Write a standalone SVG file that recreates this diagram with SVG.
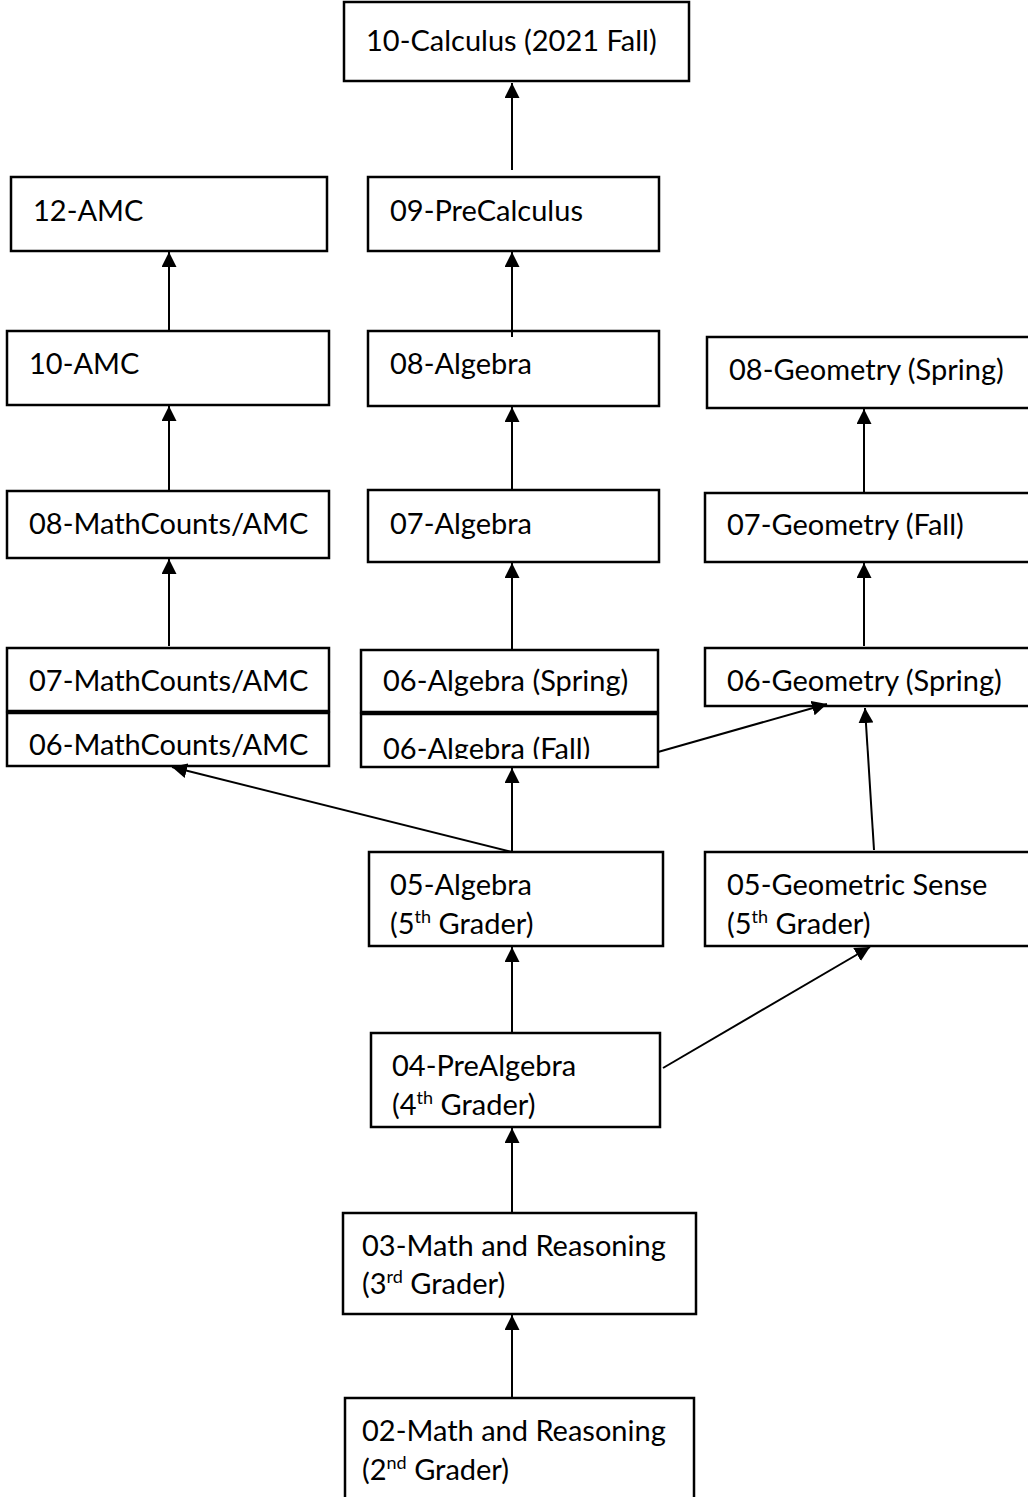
<svg xmlns="http://www.w3.org/2000/svg" width="1028" height="1497" viewBox="0 0 1028 1497">
<style>
.box{fill:#fff;stroke:#000;stroke-width:2.5}
.t{font-family:Lato,"Open Sans",sans-serif;font-size:29px;fill:#000}
.sup{font-size:18px}
.c{stroke:#000;stroke-width:2;fill:none;marker-end:url(#ah)}
</style>
<defs>
<marker id="ah" markerUnits="userSpaceOnUse" markerWidth="15" markerHeight="15" refX="15" refY="7.5" orient="auto">
<path d="M0,0 L15,7.5 L0,15 z" fill="#000"/>
</marker>
<clipPath id="clipF"><rect x="361" y="714" width="297" height="45"/></clipPath>
</defs>
<rect width="1028" height="1497" fill="#fff"/>
<g id="n10calc"><rect class="box" x="344" y="2" width="345" height="79"/><text class="t" x="366" y="51">10-Calculus (2021 Fall)</text></g>
<g id="n12amc"><rect class="box" x="11" y="177" width="316" height="74"/><text class="t" x="33" y="221">12-AMC</text></g>
<g id="n09pre"><rect class="box" x="368" y="177" width="291" height="74"/><text class="t" x="390" y="221">09-PreCalculus</text></g>
<g id="n10amc"><rect class="box" x="7" y="331" width="322" height="74"/><text class="t" x="29" y="374">10-AMC</text></g>
<g id="n08alg"><rect class="box" x="368" y="331" width="291" height="75"/><text class="t" x="390" y="374">08-Algebra</text></g>
<g id="n08geo"><rect class="box" x="707" y="337" width="323" height="71"/><text class="t" x="729" y="380">08-Geometry (Spring)</text></g>
<g id="n08mc"><rect class="box" x="7" y="491" width="322" height="67"/><text class="t" x="29" y="534">08-MathCounts/AMC</text></g>
<g id="n07alg"><rect class="box" x="368" y="490" width="291" height="72"/><text class="t" x="390" y="534">07-Algebra</text></g>
<g id="n07geo"><rect class="box" x="705" y="493" width="325" height="69"/><text class="t" x="727" y="535">07-Geometry (Fall)</text></g>
<g id="n07mc"><rect class="box" x="7" y="648" width="322" height="63"/><text class="t" x="29" y="691">07-MathCounts/AMC</text></g>
<g id="n06mc"><rect class="box" x="7" y="713" width="322" height="53"/><text class="t" x="29" y="755">06-MathCounts/AMC</text></g>
<g id="n06algS"><rect class="box" x="361" y="650" width="297" height="62"/><text class="t" x="383" y="691">06-Algebra (Spring)</text></g>
<g id="n06algF"><rect class="box" x="361" y="714" width="297" height="53"/><text class="t" x="383" y="759" clip-path="url(#clipF)">06-Algebra (Fall)</text></g>
<g id="n06geo"><rect class="box" x="705" y="648" width="325" height="58"/><text class="t" x="727" y="691">06-Geometry (Spring)</text></g>
<g id="n05alg"><rect class="box" x="369" y="852" width="294" height="94"/><text class="t" x="390" y="895">05-Algebra</text><text class="t" x="390" y="934">(5<tspan class="sup" dy="-11">th</tspan><tspan dy="11"> Grader)</tspan></text></g>
<g id="n05geo"><rect class="box" x="705" y="852" width="325" height="94"/><text class="t" x="727" y="895">05-Geometric Sense</text><text class="t" x="727" y="934">(5<tspan class="sup" dy="-11">th</tspan><tspan dy="11"> Grader)</tspan></text></g>
<g id="n04pre"><rect class="box" x="371" y="1033" width="289" height="94"/><text class="t" x="392" y="1076">04-PreAlgebra</text><text class="t" x="392" y="1115">(4<tspan class="sup" dy="-11">th</tspan><tspan dy="11"> Grader)</tspan></text></g>
<g id="n03"><rect class="box" x="343" y="1213" width="353" height="101"/><text class="t" x="362" y="1256">03-Math and Reasoning</text><text class="t" x="362" y="1294">(3<tspan class="sup" dy="-11">rd</tspan><tspan dy="11"> Grader)</tspan></text></g>
<g id="n02"><rect class="box" x="345" y="1398" width="349" height="104"/><text class="t" x="362" y="1441">02-Math and Reasoning</text><text class="t" x="362" y="1480">(2<tspan class="sup" dy="-11">nd</tspan><tspan dy="11"> Grader)</tspan></text></g>
<g id="connectors">
<line class="c" x1="512" y1="170" x2="512" y2="83"/>
<line class="c" x1="169" y1="330" x2="169" y2="252"/>
<line class="c" x1="512" y1="337" x2="512" y2="252"/>
<line class="c" x1="169" y1="491" x2="169" y2="406"/>
<line class="c" x1="512" y1="490" x2="512" y2="407"/>
<line class="c" x1="864" y1="493" x2="864" y2="409"/>
<line class="c" x1="169" y1="646" x2="169" y2="559"/>
<line class="c" x1="512" y1="650" x2="512" y2="563"/>
<line class="c" x1="864" y1="646" x2="864" y2="563"/>
<line class="c" x1="512" y1="852" x2="512" y2="768"/>
<line class="c" x1="512" y1="852" x2="172" y2="767"/>
<line class="c" x1="658" y1="752" x2="827" y2="704"/>
<line class="c" x1="874" y1="850" x2="865" y2="708"/>
<line class="c" x1="512" y1="1033" x2="512" y2="947"/>
<line class="c" x1="663" y1="1068" x2="870" y2="947"/>
<line class="c" x1="512" y1="1213" x2="512" y2="1128"/>
<line class="c" x1="512" y1="1398" x2="512" y2="1315"/>
</g>
</svg>
